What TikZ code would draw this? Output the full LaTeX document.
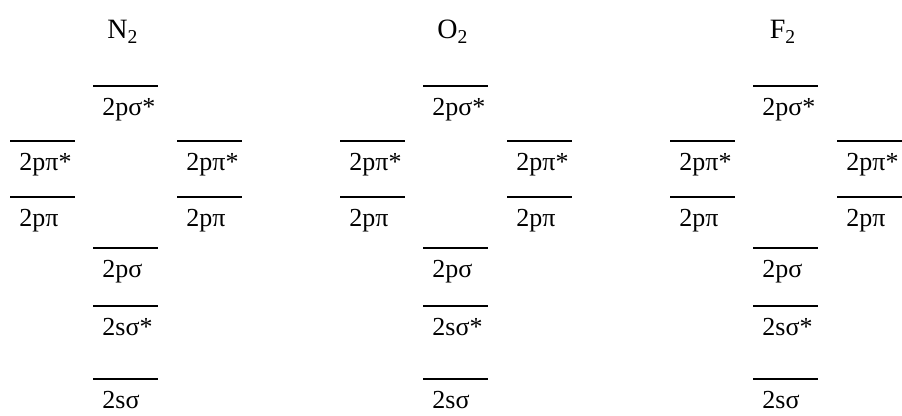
\documentclass[tikz,border=0pt]{standalone}
\usepackage{fontspec}
\setmainfont{Liberation Serif}
\usepackage{xcolor}
\usetikzlibrary{positioning}
\definecolor{lvlline}{RGB}{0,0,0}
\tikzset{
  lvl/.style  ={anchor=north west, inner xsep=4.5pt, inner ysep=5.5pt, text width=23pt, align=left,
                text height=9pt, text depth=2.5pt, font=\fontsize{13}{15}\selectfont},
  bar/.style  ={draw=lvlline, line width=0.8pt, line cap=butt},
  ttl/.style  ={anchor=base, inner sep=1pt, font=\fontsize{14}{16}\selectfont},
}
\begin{document}
\begin{tikzpicture}[x=0.5pt,y=-0.5pt]
  \useasboundingbox (0,0) rectangle (902,416);
  % N2
  \node[ttl] (N) at (123,39) {N\textsubscript{2}};
  \node[lvl] (N-psx) at (93,86) {2pσ*};
  \node[lvl] (N-pixl) at (10,141) {2pπ*};
  \node[lvl] (N-pixr) at (177,141) {2pπ*};
  \node[lvl] (N-pil) at (10,197) {2pπ};
  \node[lvl] (N-pir) at (177,197) {2pπ};
  \node[lvl] (N-ps) at (93,248) {2pσ};
  \node[lvl] (N-ssx) at (93,306) {2sσ*};
  \node[lvl] (N-ss) at (93,379) {2sσ};
  \draw[bar] (N-psx.north west) -- (N-psx.north east);
  \draw[bar] (N-pixl.north west) -- (N-pixl.north east);
  \draw[bar] (N-pixr.north west) -- (N-pixr.north east);
  \draw[bar] (N-pil.north west) -- (N-pil.north east);
  \draw[bar] (N-pir.north west) -- (N-pir.north east);
  \draw[bar] (N-ps.north west) -- (N-ps.north east);
  \draw[bar] (N-ssx.north west) -- (N-ssx.north east);
  \draw[bar] (N-ss.north west) -- (N-ss.north east);
  % O2
  \node[ttl] (O) at (453,39) {O\textsubscript{2}};
  \node[lvl] (O-psx) at (423,86) {2pσ*};
  \node[lvl] (O-pixl) at (340,141) {2pπ*};
  \node[lvl] (O-pixr) at (507,141) {2pπ*};
  \node[lvl] (O-pil) at (340,197) {2pπ};
  \node[lvl] (O-pir) at (507,197) {2pπ};
  \node[lvl] (O-ps) at (423,248) {2pσ};
  \node[lvl] (O-ssx) at (423,306) {2sσ*};
  \node[lvl] (O-ss) at (423,379) {2sσ};
  \draw[bar] (O-psx.north west) -- (O-psx.north east);
  \draw[bar] (O-pixl.north west) -- (O-pixl.north east);
  \draw[bar] (O-pixr.north west) -- (O-pixr.north east);
  \draw[bar] (O-pil.north west) -- (O-pil.north east);
  \draw[bar] (O-pir.north west) -- (O-pir.north east);
  \draw[bar] (O-ps.north west) -- (O-ps.north east);
  \draw[bar] (O-ssx.north west) -- (O-ssx.north east);
  \draw[bar] (O-ss.north west) -- (O-ss.north east);
  % F2
  \node[ttl] (F) at (783,39) {F\textsubscript{2}};
  \node[lvl] (F-psx) at (753,86) {2pσ*};
  \node[lvl] (F-pixl) at (670,141) {2pπ*};
  \node[lvl] (F-pixr) at (837,141) {2pπ*};
  \node[lvl] (F-pil) at (670,197) {2pπ};
  \node[lvl] (F-pir) at (837,197) {2pπ};
  \node[lvl] (F-ps) at (753,248) {2pσ};
  \node[lvl] (F-ssx) at (753,306) {2sσ*};
  \node[lvl] (F-ss) at (753,379) {2sσ};
  \draw[bar] (F-psx.north west) -- (F-psx.north east);
  \draw[bar] (F-pixl.north west) -- (F-pixl.north east);
  \draw[bar] (F-pixr.north west) -- (F-pixr.north east);
  \draw[bar] (F-pil.north west) -- (F-pil.north east);
  \draw[bar] (F-pir.north west) -- (F-pir.north east);
  \draw[bar] (F-ps.north west) -- (F-ps.north east);
  \draw[bar] (F-ssx.north west) -- (F-ssx.north east);
  \draw[bar] (F-ss.north west) -- (F-ss.north east);
\end{tikzpicture}
\end{document}
